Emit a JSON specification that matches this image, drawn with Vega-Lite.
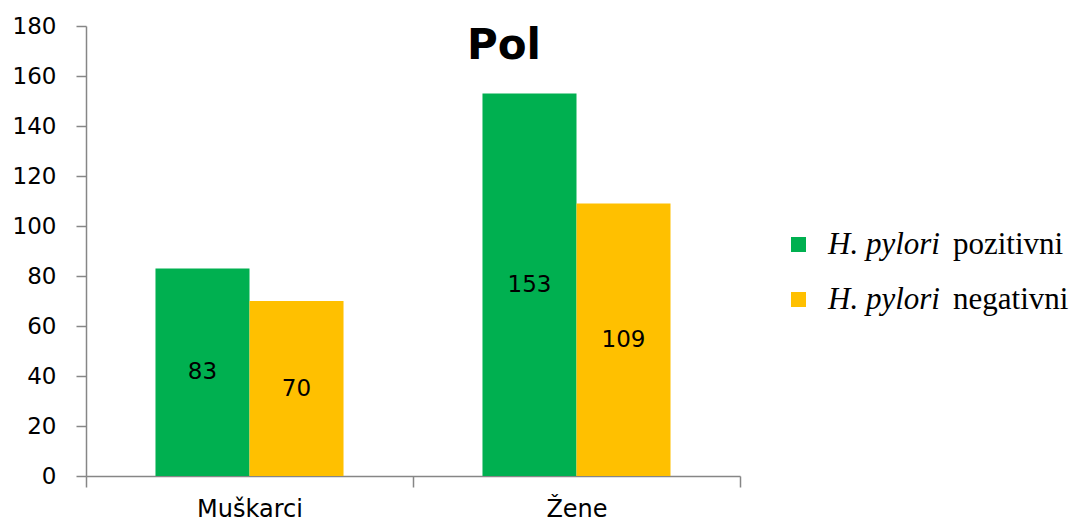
{
  "$schema": "https://vega.github.io/schema/vega-lite/v6.json",
  "width": 654,
  "height": 450,
  "autosize": {"type": "none"},
  "padding": {"left": 86, "top": 26, "right": 332, "bottom": 46},
  "background": "white",
  "config": {
    "view": {"stroke": null},
    "legend": {"labelFont": "Liberation Serif", "labelFontSize": 31, "labelColor": "#000000"}
  },
  "title": {
    "text": "Pol",
    "font": "DejaVu Sans",
    "fontSize": 42,
    "fontWeight": "bold",
    "color": "#000000",
    "anchor": "middle",
    "baseline": "alphabetic",
    "offset": 0,
    "dx": 91,
    "dy": 86
  },
  "data": {
    "values": [
      {"pol": "Muškarci", "nalaz": "pozitivni", "n": 83},
      {"pol": "Muškarci", "nalaz": "negativni", "n": 70},
      {"pol": "Žene", "nalaz": "pozitivni", "n": 153},
      {"pol": "Žene", "nalaz": "negativni", "n": 109}
    ]
  },
  "encoding": {
    "x": {
      "field": "pol",
      "type": "nominal",
      "scale": {"domain": ["Muškarci", "Žene"], "paddingInner": 0, "paddingOuter": 0},
      "axis": {
        "title": null,
        "labelAngle": 0,
        "labelFont": "DejaVu Sans",
        "labelFontSize": 24,
        "labelColor": "#000000",
        "labelPadding": 10,
        "domainColor": "#868686",
        "domainWidth": 1.5,
        "tickColor": "#868686",
        "tickWidth": 1.5,
        "tickSize": 11,
        "tickBand": "extent"
      }
    },
    "xOffset": {
      "field": "nalaz",
      "type": "nominal",
      "scale": {"domain": ["pozitivni", "negativni"], "paddingInner": 0, "paddingOuter": 0.739}
    }
  },
  "layer": [
    {
      "mark": {"type": "bar"},
      "encoding": {
        "y": {
          "field": "n",
          "type": "quantitative",
          "scale": {"domain": [0, 180], "nice": false},
          "axis": {
            "title": null,
            "values": [0, 20, 40, 60, 80, 100, 120, 140, 160, 180],
            "grid": false,
            "labelFont": "DejaVu Sans",
            "labelFontSize": 23,
            "labelColor": "#000000",
            "labelPadding": 20,
            "domainColor": "#868686",
            "domainWidth": 1.5,
            "tickColor": "#868686",
            "tickWidth": 1.5,
            "tickSize": 10
          }
        },
        "color": {
          "field": "nalaz",
          "type": "nominal",
          "scale": {"domain": ["pozitivni", "negativni"], "range": ["#00B050", "#FFC000"]},
          "legend": {
            "title": null,
            "orient": "none",
            "legendX": 697,
            "legendY": 203,
            "symbolType": "square",
            "symbolSize": 225,
            "symbolStrokeWidth": 0,
            "labelExpr": "'H. pylori'",
            "labelFont": "Liberation Serif",
            "labelFontStyle": "italic",
            "labelFontSize": 31,
            "labelColor": "#000000",
            "labelOffset": 14,
            "rowPadding": 23
          }
        }
      }
    },
    {
      "mark": {"type": "text", "font": "DejaVu Sans", "fontSize": 23, "color": "#000000", "baseline": "middle", "align": "center"},
      "encoding": {
        "y": {"field": "n", "type": "quantitative", "stack": "zero", "bandPosition": 0.5},
        "text": {"field": "n", "type": "quantitative"}
      }
    },
    {
      "mark": {"type": "point", "opacity": 0},
      "encoding": {
        "y": {"field": "n", "type": "quantitative"},
        "shape": {
          "field": "nalaz",
          "type": "nominal",
          "sort": ["pozitivni", "negativni"],
          "legend": {
            "title": null,
            "orient": "none",
            "legendX": 836,
            "legendY": 203,
            "symbolSize": 0,
            "symbolOpacity": 0,
            "labelFont": "Liberation Serif",
            "labelFontStyle": "normal",
            "labelFontSize": 31,
            "labelColor": "#000000",
            "labelOffset": 0,
            "rowPadding": 23
          }
        }
      }
    }
  ]
}
